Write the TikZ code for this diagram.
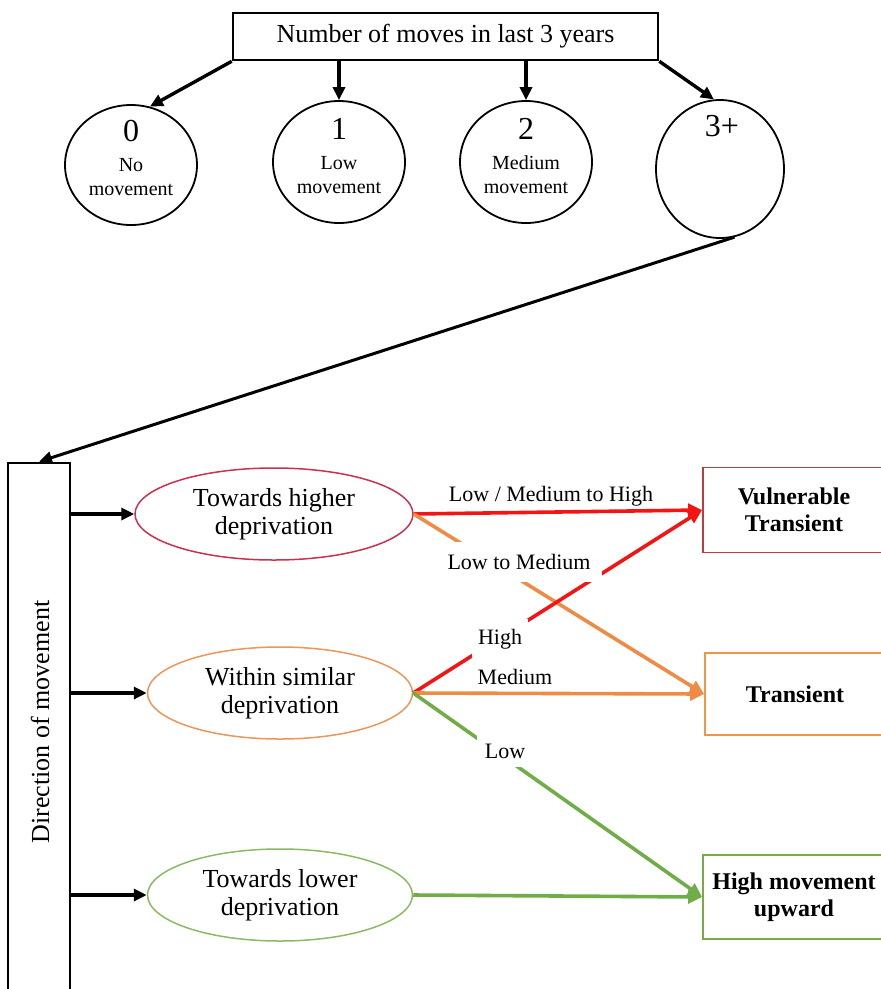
\documentclass[tikz,border=0pt]{standalone}
\usepackage{fontspec}
\setmainfont{Liberation Serif}
\usetikzlibrary{shapes.geometric,arrows.meta,calc}
\definecolor{lred}{RGB}{245,20,20}
\definecolor{lorange}{RGB}{238,140,70}
\definecolor{lgreen}{RGB}{112,173,71}
\definecolor{ered}{RGB}{200,50,80}
\definecolor{eorange}{RGB}{235,150,90}
\definecolor{egreen}{RGB}{140,185,100}
\definecolor{bred}{RGB}{190,60,60}
\definecolor{borange}{RGB}{240,150,70}
\definecolor{bgreen}{RGB}{120,170,70}
\begin{document}
\begin{tikzpicture}[x=1pt,y=-1pt,
  topbox/.style={draw, line width=2.6pt, minimum width=425pt, minimum height=47pt, inner sep=0pt,
    font=\fontsize{26}{29}\selectfont},
  circ/.style={draw, ellipse, line width=1.8pt, inner sep=0pt},
  numtxt/.style={font=\fontsize{32}{34}\selectfont, inner sep=0pt},
  smalltxt/.style={font=\fontsize{20}{24}\selectfont, align=center, inner sep=0pt},
  ell/.style={draw, ellipse, line width=1.5pt, inner sep=0pt, align=center,
    font=\fontsize{26}{28}\selectfont},
  rbox/.style={draw, line width=1.8pt, inner sep=0pt, align=center,
    font=\fontsize{24}{27}\selectfont\bfseries},
  blk/.style={line width=3.4pt, -{Triangle[length=13pt,width=12pt]}},
  col/.style={line width=3.6pt, -{Triangle[length=14pt,width=13pt]}},
  lab/.style={font=\fontsize{22}{24}\selectfont, inner sep=0pt},
  labf/.style={lab, fill=white, inner xsep=8pt, inner ysep=10pt}
]
\useasboundingbox (0,0) rectangle (881,989);
\fill[white] (0,0) rectangle (881,989);

% top part
\node[topbox] (top) at (445.5,36.5) {Number of moves in last 3 years};

\node[circ, minimum width=132pt, minimum height=120pt] (c0) at (131,165) {};
\node[circ, minimum width=132pt, minimum height=122pt] (c1) at (339,162) {};
\node[circ, minimum width=132pt, minimum height=122pt] (c2) at (526,162) {};
\node[circ, minimum width=128pt, minimum height=138pt] (c3) at (720,169) {};

\node[numtxt] (n0) at (131,131) {0};
\node[numtxt] (n1) at (339,129) {1};
\node[numtxt] (n2) at (526,129) {2};
\node[numtxt] (n3) at (722,126) {3+};
\node[smalltxt] (t0) at (131,177) {No\\movement};
\node[smalltxt] (t1) at (339,175) {Low\\movement};
\node[smalltxt] (t2) at (526,175) {Medium\\movement};

\draw[blk] (top.south west) -- (c0.72);
\draw[blk] (top.south -| c1.north) -- (c1.north);
\draw[blk] (top.south -| c2.north) -- (c2.north);
\draw[blk] (top.south east) -- (c3.95);

% direction box
\node[draw, line width=2.6pt, minimum width=62pt, minimum height=532pt, inner sep=0pt] (dir) at (39,729) {};
\node[rotate=90, font=\fontsize{26}{28}\selectfont, inner sep=0pt] (dirt) at (40,722) {Direction of movement};

\draw[blk, line width=3pt] (c3.-78) -- (dir.north);

% ellipses
\node[ell, draw=ered, minimum width=278pt, minimum height=92pt] (e1) at (274,514) {Towards higher\\deprivation};
\node[ell, draw=eorange, minimum width=265pt, minimum height=92pt] (e2) at (280,693) {Within similar\\deprivation};
\node[ell, draw=egreen, minimum width=265pt, minimum height=92pt] (e3) at (280,895) {Towards lower\\deprivation};

\draw[blk] (dir.east |- e1.west) -- (e1.west);
\draw[blk] (dir.east |- e2.west) -- (e2.west);
\draw[blk] (dir.east |- e3.west) -- (e3.west);

% outcome boxes
\node[rbox, draw=bred, minimum width=182pt, minimum height=85pt] (v) at (794,510) {Vulnerable\\Transient};
\node[rbox, draw=borange, minimum width=180pt, minimum height=82pt] (t) at (795,694) {Transient};
\node[rbox, draw=bgreen, minimum width=182pt, minimum height=84pt] (h) at (794,897) {High movement\\upward};

% coloured connectors
\draw[col, lred] (e1.east) -- (v.west);
\draw[col, lorange] (e1.east) -- (t.west);
\draw[col, lred] (e2.east) -- (v.west);
\draw[col, lorange] (e2.east) -- (t.west);
\draw[col, lgreen] (e2.east) -- (h.west);
\draw[col, lgreen] (e3.east) -- (h.west);

% labels
\node[lab] (l1) at (551,496) {Low / Medium to High};
\node[labf, inner xsep=12pt, inner ysep=12pt] (l2) at (519,562) {Low to Medium};
\node[labf, inner xsep=6pt] (l3) at (500,639) {High};
\node[lab] (l4) at (515,677) {Medium};
\node[labf, inner xsep=8pt, inner ysep=9pt] (l5) at (505,751) {Low};
\end{tikzpicture}
\end{document}
